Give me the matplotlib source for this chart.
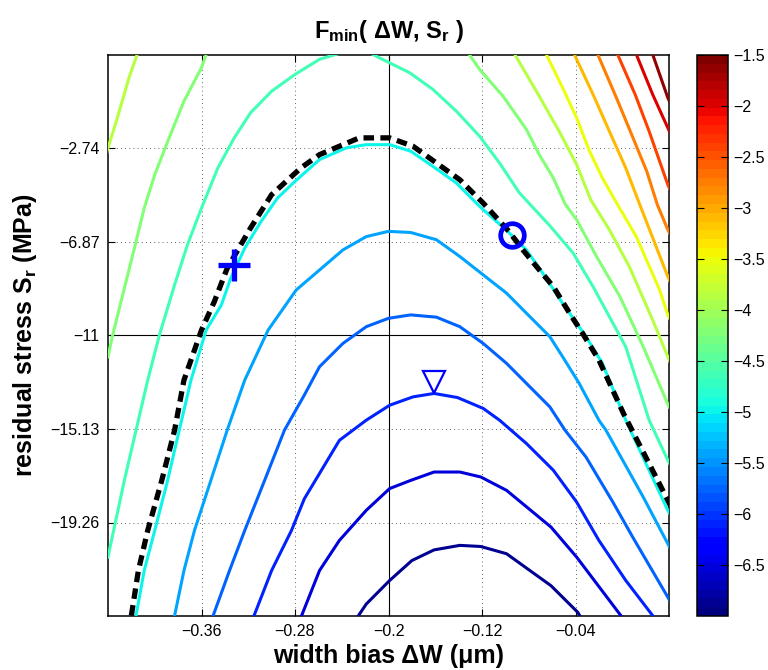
import matplotlib
matplotlib.use("Agg")
import matplotlib.pyplot as plt
import matplotlib.colors as mcolors
import matplotlib.cm as cm
import numpy as np

plt.rcParams['font.family'] = ['Liberation Sans', 'DejaVu Sans']
plt.rcParams['mathtext.fontset'] = 'custom'
plt.rcParams['mathtext.rm'] = 'Liberation Sans'
plt.rcParams['mathtext.bf'] = 'Liberation Sans:bold'
plt.rcParams['mathtext.it'] = 'Liberation Sans:italic'

# ---------------------------------------------------------------- data ---- #
# contour levels of F_min and the polylines
levels = [-6.875, -6.5, -6.125, -5.75, -5.375, -5.0, -4.625, -4.25,
          -3.875, -3.5, -3.125, -2.75, -2.375, -2.0, -1.625]

contour_x = [
    [-0.228, -0.219, -0.199, -0.180, -0.161, -0.139, -0.121, -0.099, -0.061, -0.038, -0.034],
    [-0.276, -0.259, -0.242, -0.219, -0.199, -0.181, -0.161, -0.139, -0.121, -0.099, -0.061,
     -0.039, 0.002],
    [-0.315, -0.300, -0.283, -0.272, -0.242, -0.219, -0.199, -0.179, -0.161, -0.141, -0.119,
     -0.105, -0.082, -0.059, -0.039, -0.020, 0.003, 0.026],
    [-0.350, -0.336, -0.323, -0.306, -0.289, -0.272, -0.259, -0.239, -0.219, -0.200, -0.181,
     -0.159, -0.139, -0.119, -0.099, -0.079, -0.062, -0.049, -0.031, -0.008, 0.009, 0.039, 0.042],
    [-0.383, -0.375, -0.366, -0.352, -0.338, -0.323, -0.303, -0.279, -0.239, -0.219, -0.200,
     -0.181, -0.159, -0.139, -0.119, -0.099, -0.079, -0.062, -0.051, -0.037, -0.020, -0.014,
     0.018, 0.039, 0.042],
    [-0.416, -0.409, -0.400, -0.389, -0.379, -0.369, -0.356, -0.343, -0.335, -0.323, -0.309,
     -0.295, -0.280, -0.259, -0.236, -0.219, -0.199, -0.181, -0.162, -0.142, -0.122, -0.098,
     -0.082, -0.068, -0.051, -0.031, -0.017, 0.003, 0.039, 0.042],
    [-0.440, -0.437, -0.426, -0.416, -0.406, -0.396, -0.383, -0.372, -0.360, -0.346, -0.332,
     -0.318, -0.300, -0.280, -0.259, -0.242, -0.215, -0.208, -0.182, -0.162, -0.142, -0.122,
     -0.105, -0.088, -0.062, -0.042, -0.025, -0.011, 0.003, 0.023, 0.039, 0.042],
    [-0.440, -0.436, -0.426, -0.416, -0.409, -0.400, -0.390, -0.375, -0.360, -0.356, -0.355,
     None,
     -0.132, -0.131, -0.122, -0.102, -0.082, -0.071, -0.059, -0.049, -0.039, -0.022, -0.002,
     0.018, 0.040],
    [-0.442, -0.440, -0.432, -0.422, -0.415, -0.413,
     None,
     -0.094, -0.092, -0.071, -0.054, -0.039, -0.027, -0.011, 0.006, 0.026, 0.039, 0.042],
    [-0.067, -0.065, -0.051, -0.039, -0.028, -0.017, -0.004, 0.012, 0.032, 0.039, 0.042],
    [-0.043, -0.041, -0.025, -0.011, 0.003, 0.015, 0.039, 0.042],
    [-0.023, -0.021, -0.005, 0.008, 0.021, 0.030, 0.039, 0.042],
    [-0.006, -0.004, 0.011, 0.023, 0.039, 0.042],
    [0.010, 0.012, 0.026, 0.039, 0.042],
    [0.024, 0.026, 0.039, 0.042],
]
contour_y = [
    [-23.55, -22.86, -21.82, -20.94, -20.47, -20.27, -20.32, -20.64, -22.05, -23.23, -23.60],
    [-23.59, -21.38, -20.05, -18.72, -17.76, -17.40, -17.03, -17.03, -17.25, -17.84, -19.46,
     -20.79, -23.59],
    [-23.37, -21.38, -19.61, -18.21, -15.63, -14.74, -14.08, -13.71, -13.56, -13.74, -14.22,
     -14.74, -15.77, -16.95, -18.36, -20.05, -21.82, -23.37],
    [-23.37, -21.38, -19.61, -17.40, -15.18, -13.63, -12.38, -11.35, -10.61, -10.24, -10.09,
     -10.19, -10.61, -11.35, -12.23, -13.27, -14.15, -15.18, -16.37, -18.36, -19.91, -22.56, -22.85],
    [-23.37, -21.38, -19.61, -17.40, -15.18, -12.97, -10.76, -8.99, -7.22, -6.63, -6.40,
     -6.45, -6.77, -7.51, -8.32, -9.13, -10.17, -11.05, -11.94, -13.10, -14.74, -15.18,
     -18.14, -20.20, -20.50],
    [-23.37, -21.38, -19.61, -17.40, -15.18, -12.97, -10.76, -9.65, -8.47, -7.14, -5.96,
     -4.93, -4.19, -3.23, -2.71, -2.57, -2.57, -2.86, -3.53, -4.26, -5.30, -6.40,
     -7.22, -8.25, -9.58, -11.05, -12.23, -14.74, -18.73, -18.99],
    [-20.79, -20.05, -17.40, -15.18, -12.97, -10.98, -8.76, -6.99, -5.37, -3.60, -2.27,
     -1.16, -0.21, 0.53, 1.20, 1.46, 1.46, 1.27, 0.61, -0.13, -1.09, -2.20,
     -3.38, -4.70, -6.15, -7.36, -8.84, -10.17, -11.50, -14.74, -16.51, -16.80],
    [-11.94, -10.98, -8.91, -6.85, -5.37, -3.90, -2.57, -0.65, 0.83, 1.42, 1.60,
     None,
     1.55, 1.42, 0.75, -0.43, -1.90, -3.01, -4.04, -5.18, -5.89, -7.51, -9.28,
     -11.50, -14.15],
    [-3.12, -2.71, -1.39, 0.39, 1.42, 1.64,
     None,
     1.64, 1.42, -0.43, -1.98, -3.45, -5.00, -6.33, -7.95, -10.31, -11.94, -12.31],
    [1.64, 1.42, -0.06, -1.39, -2.86, -4.04, -5.22, -6.63, -8.99, -10.09, -10.40],
    [1.64, 1.42, -0.35, -1.98, -3.60, -5.22, -8.40, -8.76],
    [1.64, 1.42, -0.50, -2.12, -3.75, -5.22, -6.33, -6.64],
    [1.64, 1.42, -0.35, -1.98, -4.34, -4.69],
    [1.64, 1.42, -0.35, -1.83, -2.17],
    [1.64, 1.42, -0.50, -0.85],
]

# dashed black contour (through the marked points)
dashed_x = [-0.420, -0.414, -0.406, -0.394, -0.383, -0.375, -0.360, -0.349, -0.338, -0.318,
            -0.300, -0.275, -0.259, -0.225, -0.199, -0.179, -0.159, -0.139, -0.119, -0.097,
            -0.085, -0.071, -0.059, -0.045, -0.034, -0.020, 0.001, 0.039, 0.042]
dashed_y = [-23.37, -21.38, -19.61, -17.40, -15.18, -12.97, -10.76, -9.50, -8.03, -6.25,
            -4.78, -3.60, -3.01, -2.27, -2.27, -2.64, -3.38, -4.12, -5.15, -6.40,
            -7.22, -8.10, -8.84, -10.02, -10.90, -12.08, -14.44, -18.28, -18.59]

# marked points
plus_pt = (-0.332, -7.88)
circle_pt = (-0.094, -6.55)
tri_pt = (-0.161, -13.05)

xticks = [-0.36, -0.28, -0.2, -0.12, -0.04]
xtick_labels = ['\u22120.36', '\u22120.28', '\u22120.2', '\u22120.12', '\u22120.04']
yticks = [-2.74, -6.87, -11, -15.13, -19.26]
ytick_labels = ['\u22122.74', '\u22126.87', '\u221211', '\u221215.13', '\u221219.26']
cbar_ticks = [-1.5, -2, -2.5, -3, -3.5, -4, -4.5, -5, -5.5, -6, -6.5]
cbar_labels = ['\u22121.5', '\u22122', '\u22122.5', '\u22123', '\u22123.5', '\u22124',
               '\u22124.5', '\u22125', '\u22125.5', '\u22126', '\u22126.5']

xlim = (-0.44, 0.04)
ylim = (-23.39, 1.39)
clim = (-7.0, -1.5)

# ---------------------------------------------------------------- plot ---- #
W, H = 768, 670
fig = plt.figure(figsize=(W / 100, H / 100), dpi=100)
ax = fig.add_axes([108 / W, 1 - 616 / H, (669 - 108) / W, (616 - 55) / H])
cax = fig.add_axes([697 / W, 1 - 616 / H, 31 / W, (616 - 55) / H])

cmap = plt.get_cmap('jet', 64)
norm = mcolors.Normalize(vmin=clim[0], vmax=clim[1])

for lev, xs, ys in zip(levels, contour_x, contour_y):
    xs = np.array([np.nan if v is None else v for v in xs], dtype=float)
    ys = np.array([np.nan if v is None else v for v in ys], dtype=float)
    ax.plot(xs, ys, color=cmap(norm(lev)), lw=2.2, zorder=3)

ax.plot(dashed_x, dashed_y, color='k', lw=3.8, ls=(0, (2.0, 1.2)), zorder=4)

ax.plot(*plus_pt, marker='+', ms=23, mew=3.8, color='blue', zorder=5)
ax.plot(*circle_pt, marker='o', ms=17, mew=3.4, mfc='none', mec='blue', zorder=5)
ax.plot(*tri_pt, marker='v', ms=16, mew=1.6, mfc='none', mec='blue', zorder=5)

ax.axvline(-0.2, color='k', lw=0.8, zorder=2)
ax.axhline(-11, color='k', lw=0.8, zorder=2)

ax.set_xlim(*xlim)
ax.set_ylim(*ylim)
ax.set_xticks(xticks)
ax.set_xticklabels(xtick_labels)
ax.set_yticks(yticks)
ax.set_yticklabels(ytick_labels)
ax.grid(True, ls=(0, (1, 4)), color='k', lw=0.6, alpha=0.8)
ax.tick_params(direction='in', top=True, right=True, length=5, width=0.8,
               labelsize=11.5, pad=6)
for sp in ax.spines.values():
    sp.set_linewidth(1.1)

ax.set_xlabel('width bias \u0394W (\u03bcm)', fontsize=18, fontweight='bold', labelpad=3)
ax.set_ylabel(r'residual stress S$_{\mathbf{r}}$ (MPa)', fontsize=18, fontweight='bold',
              labelpad=8)
ax.set_title('F$_{\\mathbf{min}}$( \u0394W, S$_{\\mathbf{r}}$ )',
             fontsize=17, fontweight='bold', pad=12)

sm = cm.ScalarMappable(norm=norm, cmap=cmap)
cbar = fig.colorbar(sm, cax=cax, ticks=cbar_ticks)
cbar.ax.set_yticklabels(cbar_labels)
cbar.ax.tick_params(direction='in', left=True, right=True, length=5, width=0.8,
                    labelsize=11.5, pad=4)
cbar.outline.set_linewidth(1.1)

fig.savefig('out.png', dpi=100)
